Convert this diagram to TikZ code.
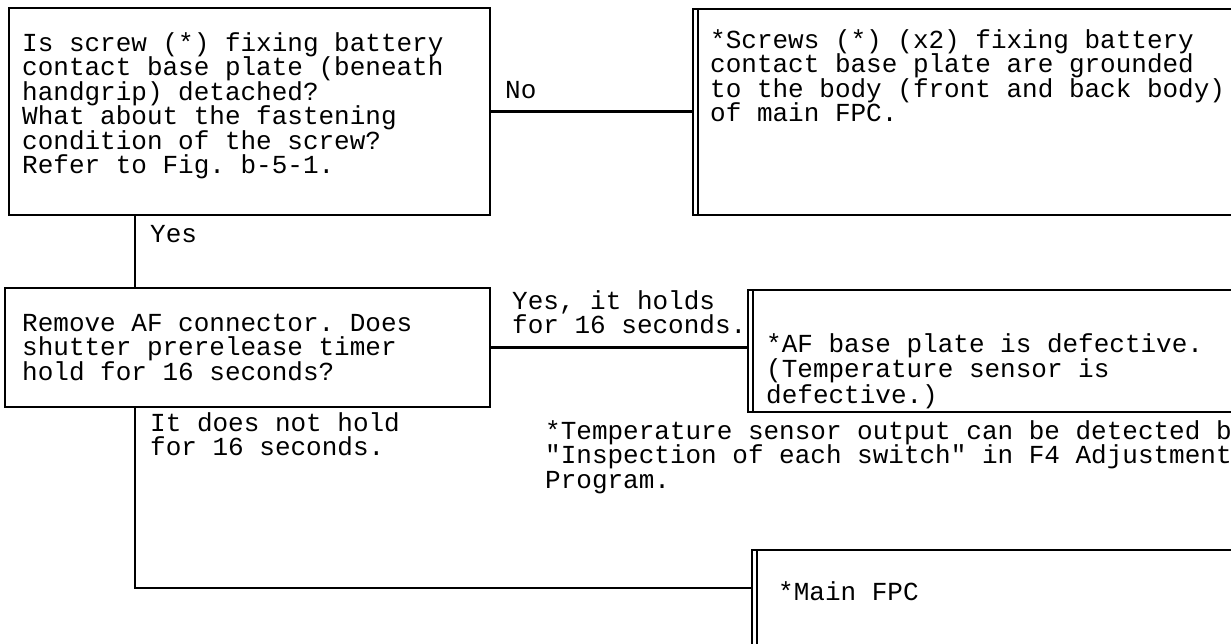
\documentclass[tikz,border=0pt]{standalone}
\usepackage{fontspec}
\setmonofont{Liberation Mono}
\begin{document}
\begin{tikzpicture}[x=1pt,y=-1pt,
  box/.style={draw, line width=2.2pt, inner sep=0pt, outer sep=0pt, anchor=north west},
  txt/.style={font=\ttfamily\fontsize{26}{24.5}\selectfont, align=left, inner sep=0pt, anchor=base west},
  conn/.style={line width=2.2pt}]
\clip (0,0) rectangle (1231,643);
\useasboundingbox (0,0) rectangle (1231,643);
% boxes
\node[box, minimum width=481pt, minimum height=207pt] (q1) at (9,8) {};
\node[box, minimum width=485pt, minimum height=119pt] (q2) at (5,288) {};
\node[box, minimum width=600pt, minimum height=206pt] (r1) at (693,9) {};
\node[box, minimum width=600pt, minimum height=122pt] (r2) at (748,290) {};
\node[box, minimum width=600pt, minimum height=150pt] (r3) at (752,550) {};
\draw[conn] ([xshift=5pt]r1.north west) -- ([xshift=5pt]r1.south west);
\draw[conn] ([xshift=5pt]r2.north west) -- ([xshift=5pt]r2.south west);
\draw[conn] ([xshift=5pt]r3.north west) -- ([xshift=5pt]r3.south west);
% texts (anchor = baseline of the last line)
\node[txt] (t1) at (22,173.5) {Is screw (*) fixing battery\\contact base plate (beneath\\handgrip) detached?\\What about the fastening\\condition of the screw?\\Refer to Fig. b-5-1.};
\node[txt] (tr1) at (710,121.5) {*Screws (*) (x2) fixing battery\\contact base plate are grounded\\to the body (front and back body)\\of main FPC.};
\node[txt] (t2) at (22,380) {Remove AF connector. Does\\shutter prerelease timer\\hold for 16 seconds?};
\node[txt, font=\ttfamily\fontsize{26}{23.5}\selectfont] (tr2) at (766,403) {*AF base plate is defective.\\(Temperature sensor is\\defective.)};
\node[txt] (tr3) at (778,600) {*Main FPC};
\node[txt] (note) at (545,488) {*Temperature sensor output can be detected by\\"Inspection of each switch" in F4 Adjustment\\Program.};
% labels
\node[txt] (lno) at (505,98) {No};
\node[txt] (lyes) at (150,242) {Yes};
\node[txt] (lyes2) at (512,333.5) {Yes, it holds\\for 16 seconds.};
\node[txt] (lnot) at (150,455.5) {It does not hold\\for 16 seconds.};
% connectors
\coordinate (j1) at (135,0);
\coordinate (c3) at (752,588);
\draw[conn] (q1.east) -- (q1.east -| r1.west);
\draw[conn] (q1.south -| j1) -- (q2.north -| j1);
\draw[conn] (q2.east) -- (q2.east -| r2.west);
\draw[conn] (q2.south -| j1) |- (c3);
\end{tikzpicture}
\end{document}
